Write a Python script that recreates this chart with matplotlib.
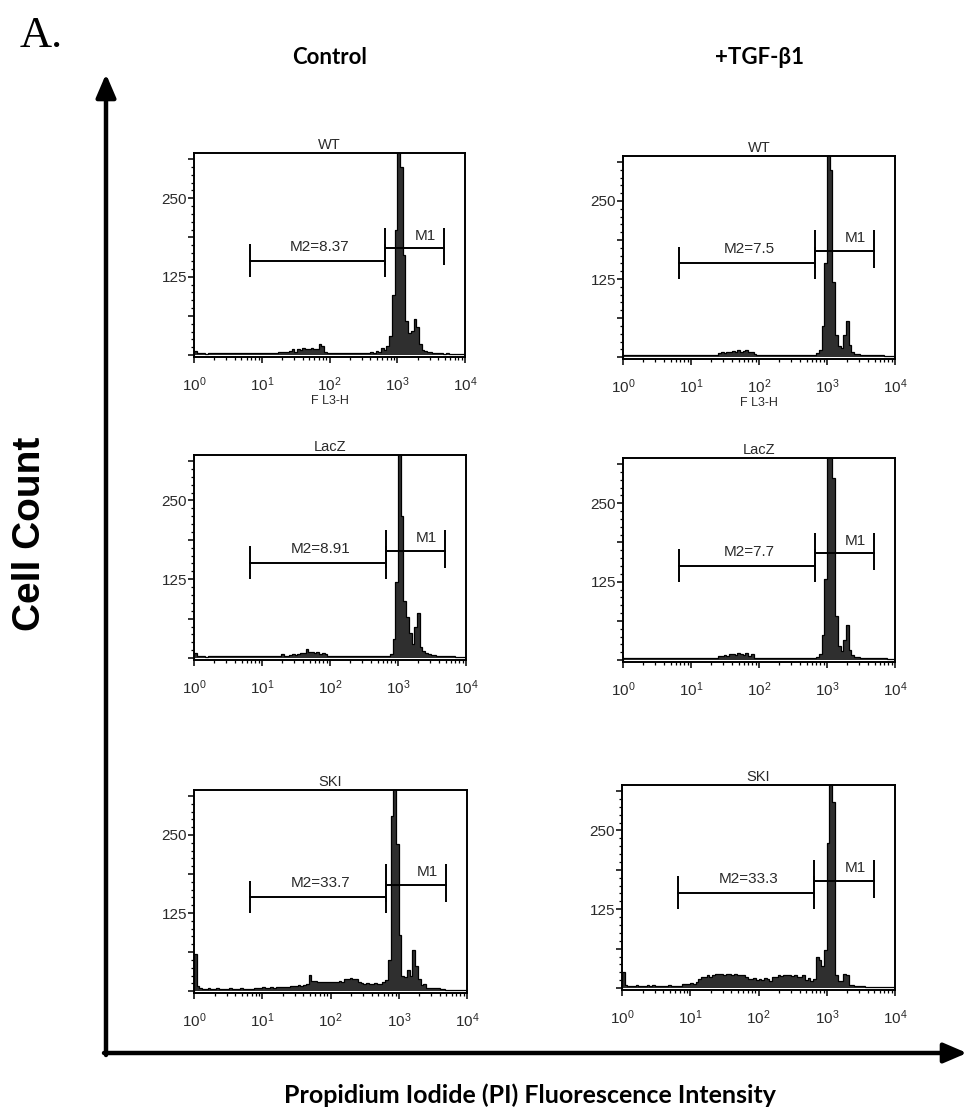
import numpy as np
import matplotlib
matplotlib.use('Agg')
import matplotlib.pyplot as plt
from matplotlib import font_manager as fm
from matplotlib.ticker import FixedLocator, FixedFormatter, LogLocator, NullFormatter

# ---------------- data ----------------
conditions = ['Control', '+TGF-\u03b21']
constructs = ['WT', 'LacZ', 'SKI']
m2_control = ['8.37', '8.91', '33.7']
m2_tgf = ['7.5', '7.7', '33.3']

# histogram counts, 100 log-spaced channels from 10^0 to 10^4 (0.04 decade each)
ctrl_wt = [6, 3, 3, 4, 2, 3, 4, 3, 3, 3,
           4, 3, 3, 4, 3, 4, 3, 3, 4, 3,
           3, 4, 3, 4, 4, 3, 4, 4, 4, 4,
           4, 5, 5, 5, 5, 6, 9, 5, 10, 8,
           12, 9, 10, 12, 9, 10, 18, 14, 5, 4,
           4, 4, 4, 3, 4, 3, 4, 3, 4, 3,
           4, 3, 4, 4, 4, 5, 4, 7, 5, 12,
           8, 15, 30, 95, 200, 340, 300, 160, 55, 35,
           38, 58, 45, 18, 8, 6, 5, 5, 4, 3,
           3, 3, 2, 3, 2, 2, 2, 2, 2, 2]
ctrl_lacz = [8, 3, 3, 3, 2, 3, 3, 3, 4, 3,
             3, 3, 3, 3, 3, 4, 3, 3, 3, 3,
             3, 3, 3, 3, 3, 3, 3, 4, 3, 3,
             4, 3, 6, 4, 4, 5, 6, 5, 7, 8,
             8, 14, 10, 9, 8, 9, 7, 8, 6, 4,
             4, 3, 3, 3, 3, 3, 3, 3, 3, 3,
             3, 3, 3, 3, 3, 3, 3, 3, 3, 3,
             4, 4, 6, 30, 120, 340, 225, 90, 65, 40,
             22, 50, 72, 18, 12, 8, 6, 5, 5, 4,
             3, 3, 3, 3, 3, 3, 2, 2, 2, 2]
ctrl_ski = [60, 8, 5, 4, 4, 5, 4, 4, 5, 4,
            4, 4, 4, 5, 4, 4, 4, 5, 4, 4,
            4, 4, 5, 5, 5, 6, 5, 5, 6, 5,
            6, 6, 6, 7, 7, 8, 8, 9, 10, 9,
            10, 12, 26, 17, 16, 15, 15, 14, 15, 15,
            14, 15, 15, 16, 15, 20, 20, 21, 20, 19,
            15, 13, 12, 13, 12, 12, 13, 12, 12, 14,
            18, 50, 280, 340, 235, 90, 25, 22, 34, 25,
            66, 40, 20, 10, 12, 5, 5, 5, 5, 5,
            4, 3, 2, 2, 2, 2, 2, 2, 2, 2]
tgf_wt = [4, 3, 3, 3, 3, 3, 3, 4, 3, 3,
          3, 3, 3, 3, 3, 3, 4, 3, 3, 3,
          3, 3, 3, 3, 3, 3, 3, 3, 3, 3,
          3, 3, 3, 4, 4, 6, 8, 7, 9, 8,
          10, 9, 11, 8, 10, 12, 8, 9, 5, 4,
          3, 3, 3, 3, 3, 3, 3, 3, 3, 3,
          3, 3, 3, 3, 3, 3, 3, 3, 3, 4,
          4, 6, 12, 50, 150, 340, 300, 120, 35, 18,
          14, 35, 58, 20, 8, 5, 5, 4, 4, 3,
          3, 3, 4, 3, 3, 3, 2, 2, 2, 2]
tgf_lacz = [3, 3, 3, 3, 3, 3, 3, 3, 3, 3,
            3, 3, 3, 4, 3, 3, 4, 3, 3, 3,
            3, 3, 3, 3, 3, 3, 3, 3, 3, 3,
            3, 3, 3, 4, 3, 6, 7, 8, 7, 9,
            10, 8, 11, 9, 8, 11, 7, 9, 4, 3,
            3, 3, 3, 3, 3, 3, 3, 3, 3, 3,
            3, 3, 3, 3, 3, 3, 3, 3, 3, 4,
            4, 5, 10, 40, 130, 340, 340, 290, 70, 22,
            14, 32, 56, 16, 8, 5, 5, 4, 4, 3,
            3, 3, 3, 3, 3, 3, 3, 2, 2, 2]
tgf_ski = [25, 5, 4, 4, 4, 5, 4, 4, 4, 5,
           4, 5, 4, 4, 4, 4, 4, 5, 4, 4,
           4, 4, 6, 7, 7, 8, 7, 9, 14, 17,
           18, 20, 17, 21, 22, 22, 23, 21, 22, 22,
           21, 22, 20, 21, 20, 18, 15, 14, 16, 13,
           14, 13, 16, 15, 12, 18, 17, 20, 19, 20,
           20, 20, 19, 20, 17, 18, 20, 13, 16, 12,
           14, 50, 45, 35, 60, 230, 340, 295, 20, 12,
           12, 22, 20, 5, 5, 4, 4, 4, 3, 2,
           2, 2, 2, 2, 2, 2, 2, 2, 2, 2]

control_hists = [ctrl_wt, ctrl_lacz, ctrl_ski]
tgf_hists = [tgf_wt, tgf_lacz, tgf_ski]

# marker gates (FL3-H units) and bar heights (counts)
m2_gate = [6.6, 660]
m1_gate = [660, 4900]
m2_level = 150
m1_level = 170

x_tick_values = [1, 10, 100, 1000, 10000]
x_tick_labels = ['$10^{0}$', '$10^{1}$', '$10^{2}$', '$10^{3}$', '$10^{4}$']
y_tick_values = [0, 62.5, 125, 187.5, 250, 312.5]
y_tick_labels = ['', '', '125', '', '250', '']

# ---------------- fonts ----------------
names = {f.name for f in fm.fontManager.ttflist}
NARROW = 'Liberation Sans Narrow' if 'Liberation Sans Narrow' in names else 'Liberation Sans'
fs = 1.15 if NARROW == 'Liberation Sans Narrow' else 1.0
plt.rcParams['mathtext.fontset'] = 'custom'
plt.rcParams['mathtext.rm'] = NARROW
plt.rcParams['mathtext.it'] = NARROW
plt.rcParams['mathtext.bf'] = NARROW
plt.rcParams['font.family'] = [NARROW, 'DejaVu Sans']

W, H = 968, 1110
fig = plt.figure(figsize=(W / 100, H / 100), dpi=100)
fig.patch.set_facecolor('white')

def rect(l, t, r, b):
    return [l / W, 1 - b / H, (r - l) / W, (b - t) / H]

panel_boxes = {
    (0, 0): (194, 153, 465, 357), (1, 0): (623, 156, 895, 359),
    (0, 1): (194, 455, 466, 660), (1, 1): (623, 458, 895, 662),
    (0, 2): (194, 790, 467, 993), (1, 2): (622, 785, 895, 990),
}

edges = np.logspace(0, 4, 101)
TXT = '#2a2a2a'

def draw_panel(ax, counts, title, m2text, show_xlabel):
    ax.stairs(counts, edges, fill=True, color='#2f2f2f', baseline=0, zorder=2)
    ax.stairs(counts, edges, fill=False, color='black', lw=0.9, baseline=0, zorder=3)
    ax.set_xscale('log')
    ax.set_xlim(1, 1e4)
    ax.set_ylim(-3, 322)
    # gates
    ax.plot(m2_gate, [m2_level, m2_level], color='black', lw=1.4, zorder=4)
    ax.vlines(m2_gate, m2_level - 25, m2_level + 27, color='black', lw=1.4, zorder=4)
    ax.plot(m1_gate, [m1_level, m1_level], color='black', lw=1.4, zorder=4)
    ax.vlines(m1_gate, m1_level - 27, m1_level + 33, color='black', lw=1.4, zorder=4)
    ax.text(10 ** 1.86, m2_level + 23, 'M2=' + m2text, ha='center', va='center',
            fontsize=11 * fs, color=TXT, zorder=5)
    ax.text(10 ** 3.42, m1_level + 20, 'M1', ha='center', va='center',
            fontsize=11 * fs, color=TXT, zorder=5)
    ax.set_title(title, fontsize=10.5 * fs, color=TXT, pad=3)
    # ticks
    ax.xaxis.set_major_locator(FixedLocator(x_tick_values))
    ax.xaxis.set_major_formatter(FixedFormatter(x_tick_labels))
    ax.xaxis.set_minor_locator(LogLocator(base=10, subs=np.arange(2, 10)))
    ax.xaxis.set_minor_formatter(NullFormatter())
    ax.yaxis.set_major_locator(FixedLocator(y_tick_values))
    ax.yaxis.set_major_formatter(FixedFormatter(y_tick_labels))
    ax.yaxis.set_minor_locator(FixedLocator(np.arange(0, 322, 12.5)))
    ax.tick_params(axis='both', which='major', direction='out', length=4, width=1.1,
                   labelsize=11 * fs, labelcolor=TXT)
    ax.tick_params(axis='both', which='minor', direction='out', length=2.5, width=0.9)
    ax.tick_params(axis='x', which='major', pad=9)
    ax.tick_params(axis='y', which='major', pad=1)
    for s in ax.spines.values():
        s.set_linewidth(1.4)
        s.set_color('black')
    if show_xlabel:
        ax.set_xlabel('F L3-H', fontsize=9 * fs, color=TXT, labelpad=1)

for (col, row), box in panel_boxes.items():
    ax = fig.add_axes(rect(*box))
    counts = (control_hists if col == 0 else tgf_hists)[row]
    m2 = (m2_control if col == 0 else m2_tgf)[row]
    draw_panel(ax, counts, constructs[row], m2, row == 0)

# ---------------- overlay: arrows and labels ----------------
ov = fig.add_axes([0, 0, 1, 1], zorder=-1)
ov.set_xlim(0, W)
ov.set_ylim(H, 0)
ov.axis('off')
ov.annotate('', xy=(106, 74), xytext=(106, 1055),
            arrowprops=dict(arrowstyle='-|>,head_length=0.7,head_width=0.3', lw=3.2,
                            color='black', shrinkA=0, shrinkB=0, mutation_scale=20))
ov.annotate('', xy=(967, 1053), xytext=(104, 1053),
            arrowprops=dict(arrowstyle='-|>,head_length=0.7,head_width=0.3', lw=3.2,
                            color='black', shrinkA=0, shrinkB=0, mutation_scale=20))

ov.text(20, 36, 'A.', ha='left', va='center', fontsize=32,
        family=['Liberation Serif', 'DejaVu Serif'])
ov.text(330, 58, conditions[0], ha='center', va='center', fontsize=16,
        fontweight='bold', family=['Lato', 'DejaVu Sans'])
ov.text(759, 58, conditions[1], ha='center', va='center', fontsize=16,
        fontweight='bold', family=['Lato', 'DejaVu Sans'])
ov.text(30, 534, 'Cell Count', ha='center', va='center', rotation=90, fontsize=28,
        fontweight='bold', family=['Liberation Sans', 'DejaVu Sans'])
ov.text(530, 1095, 'Propidium Iodide (PI) Fluorescence Intensity', ha='center', va='center',
        fontsize=18, fontweight='bold', family=['Lato', 'DejaVu Sans'])

fig.savefig('out.png', dpi=100, facecolor='white')
